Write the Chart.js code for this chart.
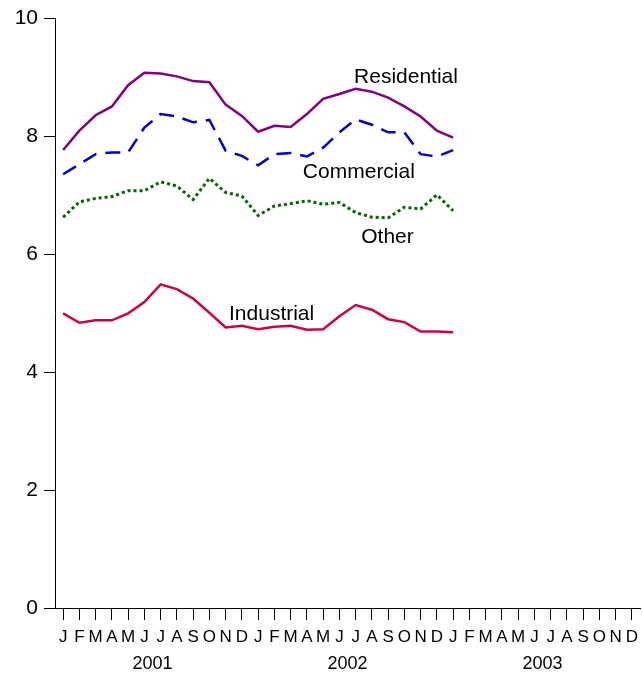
<!DOCTYPE html>
<html>
<head>
<meta charset="utf-8">
<script src="https://cdn.jsdelivr.net/npm/chart.js@4"></script>
<style>
	html, body { margin: 0; padding: 0; background: #fff; }
	#wrap { width: 642px; height: 675px; }
</style>
</head>
<body>
<div id="wrap"><canvas id="chart_table" width="642" height="675"></canvas></div>
<script>
"use strict";

const monthLetters = ["J", "F", "M", "A", "M", "J", "J", "A", "S", "O", "N", "D"];
const years = ["2001", "2002", "2003"];
const yTicks = [0, 2, 4, 6, 8, 10];

// Jan 2001 .. Jan 2003
const residential = [7.77, 8.1, 8.36, 8.51, 8.87, 9.08, 9.07, 9.02, 8.94, 8.92, 8.54, 8.35, 8.08, 8.18, 8.16, 8.38, 8.64, 8.72, 8.81, 8.76, 8.66, 8.51, 8.34, 8.1, 7.98];
const commercial = [7.36, 7.53, 7.7, 7.73, 7.73, 8.15, 8.38, 8.34, 8.24, 8.28, 7.76, 7.67, 7.51, 7.7, 7.72, 7.66, 7.81, 8.07, 8.29, 8.2, 8.07, 8.07, 7.7, 7.66, 7.77];
const other = [6.63, 6.89, 6.95, 6.98, 7.08, 7.08, 7.23, 7.16, 6.93, 7.29, 7.05, 6.99, 6.66, 6.82, 6.86, 6.91, 6.85, 6.88, 6.71, 6.63, 6.62, 6.8, 6.77, 7.01, 6.74];
const industrial = [5.0, 4.84, 4.88, 4.88, 5.0, 5.19, 5.49, 5.41, 5.25, 5.01, 4.76, 4.79, 4.73, 4.77, 4.79, 4.72, 4.73, 4.95, 5.14, 5.06, 4.9, 4.85, 4.69, 4.69, 4.68];

// label name, x (month index), y value
const seriesLabels = [
	["Residential", 21.1, 9.0],
	["Commercial", 18.2, 7.39],
	["Other", 19.96, 6.29],
	["Industrial", 12.83, 4.98],
];

const toPoints = (arr) => arr.map((v, i) => ({ x: i, y: v }));

const seriesLabelPlugin = {
	id: "seriesLabels",
	afterDraw(chart) {
		const c = chart.ctx;
		const xs = chart.scales.x;
		const ys = chart.scales.y;
		c.save();
		c.fillStyle = "#000";
		c.font = "21px 'Liberation Sans', Arial, sans-serif";
		c.textAlign = "center";
		c.textBaseline = "middle";
		seriesLabels.forEach(([txt, x, y]) => {
			c.fillText(txt, xs.getPixelForValue(x), ys.getPixelForValue(y));
		});
		c.font = "18px 'Liberation Sans', Arial, sans-serif";
		years.forEach((yr, i) => {
			c.fillText(yr, xs.getPixelForValue(i * 12 + 5.5), 664);
		});
		c.restore();
	},
};

function makeLine(label, data, color, dash, width) {
	return {
		label: label,
		data: toPoints(data),
		borderColor: color,
		backgroundColor: color,
		borderWidth: width,
		borderDash: dash,
		pointRadius: 0,
		tension: 0,
		fill: false,
	};
}

const ctx = document.getElementById("chart_table");
new Chart(ctx, {
	type: "line",
	data: {
		datasets: [
			makeLine("Residential", residential, "#800080", [], 2.5),
			makeLine("Commercial", commercial, "#0000cc", [15, 9], 2.5),
			makeLine("Other", other, "#006400", [3, 3], 3),
			makeLine("Industrial", industrial, "#cc0044", [], 2.5),
		],
	},
	options: {
		responsive: false,
		animation: false,
		layout: { padding: { top: 18, right: 2, left: 0, bottom: 0 } },
		plugins: {
			legend: { display: false },
			tooltip: { enabled: false },
		},
		scales: {
			x: {
				type: "linear",
				min: -0.5,
				max: 35.5,
				afterBuildTicks: (scale) => {
					scale.ticks = Array.from({ length: 36 }, (_, i) => ({ value: i }));
				},
				afterFit: (scale) => {
					scale.height = 67;
					scale.paddingLeft = 0;
					scale.paddingRight = 0;
				},
				ticks: {
					autoSkip: false,
					maxRotation: 0,
					padding: 7,
					color: "#000",
					font: { family: "'Liberation Sans', Arial, sans-serif", size: 17 },
					callback: (v) => monthLetters[v % 12],
				},
				grid: { drawOnChartArea: false, drawTicks: true, tickLength: 12, color: "#000", lineWidth: 1 },
				border: { display: true, color: "#000", width: 1 },
			},
			y: {
				min: 0,
				max: 10,
				afterBuildTicks: (scale) => {
					scale.ticks = yTicks.map((v) => ({ value: v }));
				},
				afterFit: (scale) => {
					scale.width = 55;
				},
				ticks: {
					padding: 6,
					color: "#000",
					font: { family: "'Liberation Sans', Arial, sans-serif", size: 21 },
				},
				grid: { drawOnChartArea: false, drawTicks: true, tickLength: 11, color: "#000", lineWidth: 1 },
				border: { display: true, color: "#000", width: 1 },
			},
		},
	},
	plugins: [seriesLabelPlugin],
});
</script>
</body>
</html>
